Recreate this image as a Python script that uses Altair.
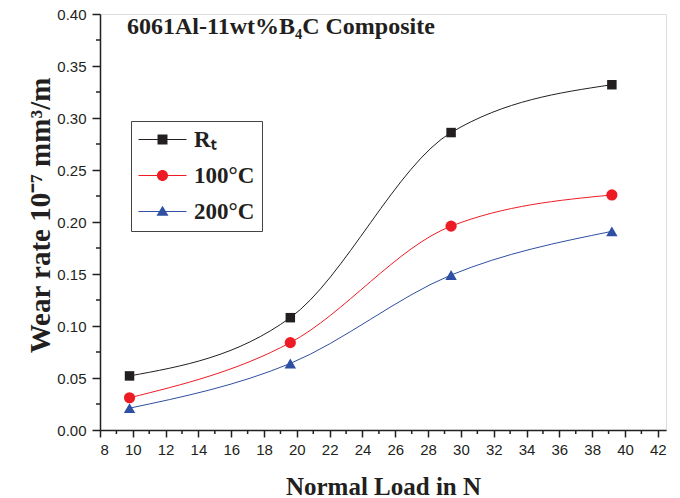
import altair as alt
import pandas as pd

loads = [9.8, 19.6, 29.4, 39.2]
series_names = ["Rₜ", "100°C", "200°C"]
rt_rate = [0.052, 0.108, 0.286, 0.332]
c100_rate = [0.031, 0.084, 0.196, 0.226]
c200_rate = [0.021, 0.064, 0.149, 0.191]
x_major = list(range(8, 43, 2))
x_minor = list(range(9, 42, 2))
y_major = [0.0, 0.05, 0.10, 0.15, 0.20, 0.25, 0.30, 0.35, 0.40]
y_minor = [0.025, 0.075, 0.125, 0.175, 0.225, 0.275, 0.325, 0.375]

colors = ["#231f20", "#ed1c24", "#2e4fa3"]
shapes = ["square", "circle", "triangle-up"]
sizes = [90, 125, 130]
legend_paths = [
    "M-4,-0.1H4V0.1H-4Z M-0.83,-0.83H0.83V0.83H-0.83Z",
    "M-4,-0.1H4V0.1H-4Z M-0.92,0A0.92,0.92 0 1,1 0.92,0A0.92,0.92 0 1,1 -0.92,0Z",
    "M-4,-0.1H4V0.1H-4Z M0,-0.95L1,0.72L-1,0.72Z",
]

rows = []
for name, vals in zip(series_names, [rt_rate, c100_rate, c200_rate]):
    for x, y in zip(loads, vals):
        rows.append({"series": name, "load": x, "rate": y})
df = pd.DataFrame(rows)
xminor_df = pd.DataFrame({"load": x_minor})
yminor_df = pd.DataFrame({"rate": y_minor})

W, H = 566, 416
xscale = alt.Scale(domain=[8, 42.5], nice=False, zero=False)
yscale = alt.Scale(domain=[0, 0.4], nice=False)

ink = "#231f20"

x_axis = alt.Axis(
    values=x_major, format="d", orient="bottom", tickSize=7, tickWidth=1.5,
    tickColor=ink, domainColor=ink, domainWidth=1.5, grid=False,
    labelFont="Liberation Sans", labelFontSize=15, labelColor=ink, labelPadding=5,
    title="Normal Load in N", titleFont="Liberation Serif", titleFontSize=25,
    titleFontWeight="bold", titleColor=ink, titleY=64, titleBaseline="alphabetic",
)
y_axis = alt.Axis(
    values=y_major, format=".2f", orient="left", tickSize=8, tickWidth=1.5,
    tickColor=ink, domainColor=ink, domainWidth=1.5, grid=False,
    labelFont="Liberation Sans", labelFontSize=15, labelColor=ink, labelPadding=6,
    title="Wear rate 10⁻⁷ mm³/m", titleFont="Liberation Serif", titleFontSize=29,
    titleFontWeight="bold", titleColor=ink, titleX=-51, titleY=201,
    titleBaseline="alphabetic",
)

X = alt.X("load:Q", scale=xscale, axis=x_axis, title="Normal Load in N")
Y = alt.Y("rate:Q", scale=yscale, axis=y_axis, title="Wear rate 10⁻⁷ mm³/m")

layers = []
# minor ticks (outside the plot, like the axis ticks)
layers.append(
    alt.Chart(xminor_df).mark_rule(color=ink, strokeWidth=1.5).encode(
        x=X, y=alt.value(H), y2=alt.value(H + 4),
    )
)
layers.append(
    alt.Chart(yminor_df).mark_rule(color=ink, strokeWidth=1.5).encode(
        y=Y, x=alt.value(-4), x2=alt.value(0),
    )
)

for name, col, shp, sz in zip(series_names, colors, shapes, sizes):
    sub = alt.Chart(df).transform_filter(alt.datum.series == name)
    layers.append(
        sub.mark_line(interpolate="monotone", strokeWidth=1, color=col).encode(x=X, y=Y)
    )
    layers.append(
        sub.mark_point(filled=True, shape=shp, size=sz, color=col, opacity=1).encode(x=X, y=Y)
    )

leg = alt.Legend(
    title=None, orient="none", legendX=31, legendY=107,
    labelFont="Liberation Serif", labelFontSize=23, labelFontWeight="bold",
    labelColor=ink, symbolSize=144, symbolStrokeWidth=0, symbolOffset=13,
    labelOffset=20, rowPadding=12, padding=7, strokeColor="#444444",
    fillColor="white", symbolOpacity=1,
)

layers.append(
    alt.Chart(df).transform_filter(alt.datum.rate < 0).mark_point(filled=True, size=144).encode(
        x=X, y=Y,
        color=alt.Color("series:N", scale=alt.Scale(domain=series_names, range=colors), legend=leg),
        shape=alt.Shape("series:N", scale=alt.Scale(domain=series_names, range=legend_paths), legend=leg),
    )
)

chart = (
    alt.layer(*layers)
    .properties(
        width=W, height=H,
        padding={"left": 100, "top": 14, "right": 14, "bottom": 68},
        autosize=alt.AutoSizeParams(type="none"),
        title=alt.Title(
            "6061Al-11wt%B₄C Composite", anchor="start", frame="group",
            font="Liberation Serif", fontSize=24, fontWeight="bold", color=ink,
            dx=27, dy=51, offset=0, baseline="alphabetic",
        ),
    )
    .configure_view(stroke=ink, strokeWidth=1.5)
    .configure(background="white")
)

chart.save("out.html", embed_options={"renderer": "svg", "actions": False})
